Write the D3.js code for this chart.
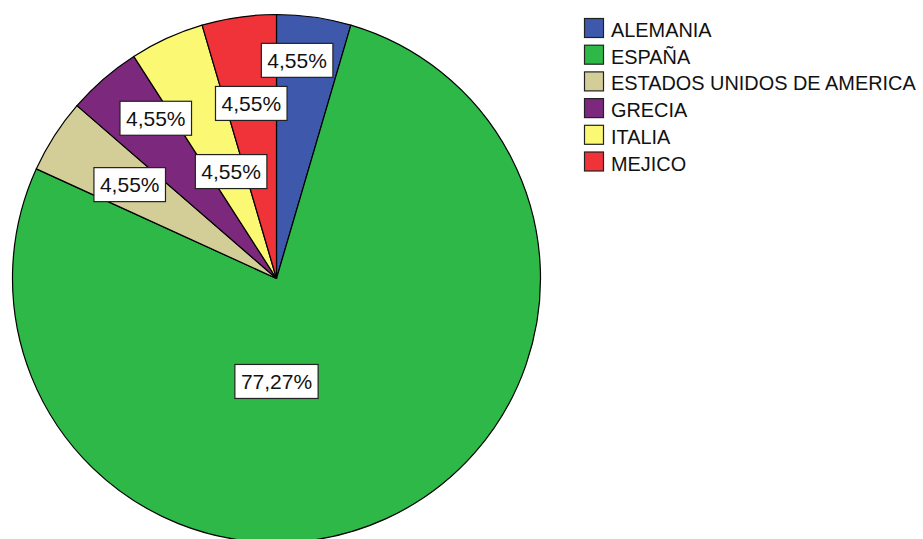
<!DOCTYPE html>
<html>
<head>
<meta charset="utf-8">
<script src="https://cdn.jsdelivr.net/npm/d3@7"></script>
<style>
  body { margin: 0; background: #fff; }
  text { font-family: "Liberation Sans", Arial, sans-serif; }
</style>
</head>
<body>
<script>
// Datos: país de origen (frecuencias, n = 22)
const paises = ["ALEMANIA", "ESPAÑA", "ESTADOS UNIDOS DE AMERICA", "GRECIA", "ITALIA", "MEJICO"];
const frecuencias = [1, 17, 1, 1, 1, 1];
const etiquetas = ["4,55%", "77,27%", "4,55%", "4,55%", "4,55%", "4,55%"];
const colores = ["#3e58ac", "#2eb848", "#d3ce97", "#7c287d", "#fbf873", "#ef3338"];

// posición de las etiquetas (ángulo en grados desde arriba, fracción del radio)
const etiquetaAngulo = [5.4, 180, -57.4, -37, -23, -8.2];
const etiquetaRadio = [0.83, 0.39, 0.66, 0.76, 0.44, 0.67];

const width = 923;
const height = 539;
const cx = 276.5, cy = 278.5, radio = 264;

const svg = d3.select("body")
  .append("svg")
  .attr("width", width)
  .attr("height", height);

const datos = paises.map((p, i) => ({ pais: p, n: frecuencias[i], etiqueta: etiquetas[i], color: colores[i] }));

const pie = d3.pie()
  .value(d => d.n)
  .sort(null);

const arc = d3.arc()
  .innerRadius(0)
  .outerRadius(radio);

const g = svg.append("g")
  .attr("transform", `translate(${cx},${cy})`);

const arcos = pie(datos);

g.selectAll("path")
  .data(arcos)
  .enter()
  .append("path")
  .attr("d", arc)
  .attr("fill", d => d.data.color)
  .attr("stroke", "#000")
  .attr("stroke-width", 1.2)
  .attr("stroke-linejoin", "round");

// Etiquetas con caja blanca
const etq = g.selectAll("g.etq")
  .data(arcos)
  .enter()
  .append("g")
  .attr("class", "etq")
  .attr("transform", (d, i) => {
    const a = etiquetaAngulo[i] * Math.PI / 180;
    const r = etiquetaRadio[i] * radio;
    return `translate(${r * Math.sin(a)},${-r * Math.cos(a)})`;
  });

etq.each(function(d) {
  const gg = d3.select(this);
  const t = gg.append("text")
    .attr("text-anchor", "middle")
    .attr("dy", "0.36em")
    .attr("font-size", 21)
    .attr("fill", "#111")
    .text(d.data.etiqueta);
  const w = t.node().getComputedTextLength();
  gg.insert("rect", "text")
    .attr("x", -w / 2 - 6)
    .attr("y", -17)
    .attr("width", w + 12)
    .attr("height", 34)
    .attr("fill", "#fff")
    .attr("stroke", "#222")
    .attr("stroke-width", 1.2);
});

// Leyenda
const leyenda = svg.append("g")
  .attr("transform", "translate(584,18)");

const filas = leyenda.selectAll("g")
  .data(datos)
  .enter()
  .append("g")
  .attr("transform", (d, i) => `translate(0,${i * 26.7})`);

filas.append("rect")
  .attr("x", 0.5)
  .attr("y", 0.5)
  .attr("width", 19)
  .attr("height", 19)
  .attr("fill", d => d.color)
  .attr("stroke", "#222")
  .attr("stroke-width", 1.2);

filas.append("text")
  .attr("x", 27)
  .attr("y", 19)
  .attr("font-size", 19.9)
  .attr("fill", "#111")
  .text(d => d.pais);
</script>
</body>
</html>
